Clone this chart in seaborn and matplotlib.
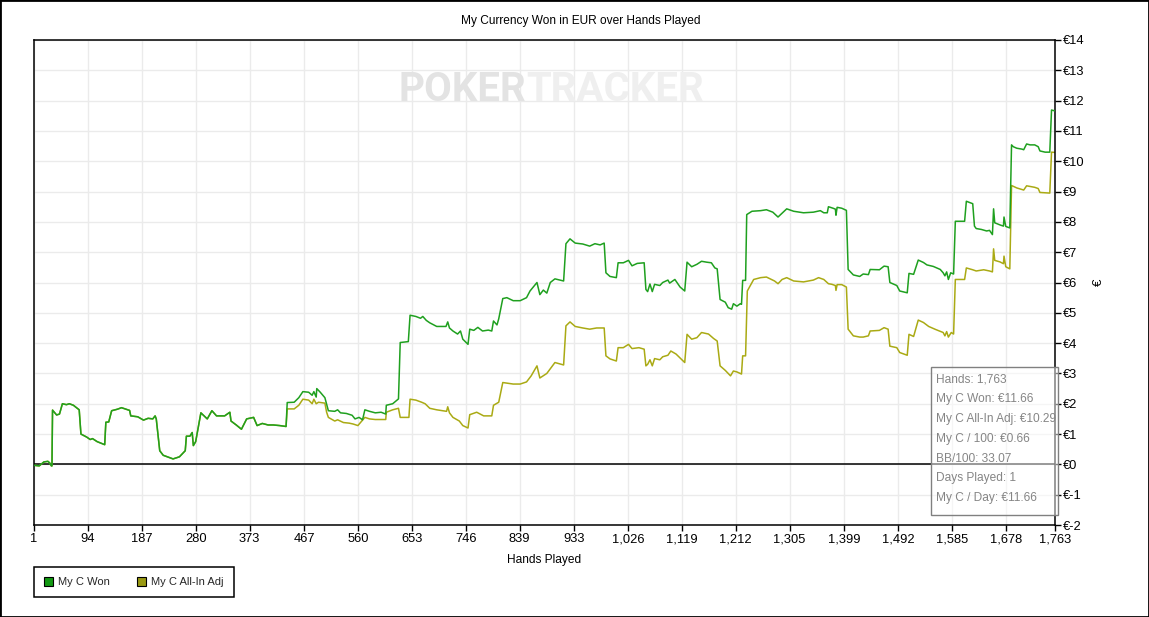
import matplotlib
matplotlib.use("Agg")
import matplotlib.pyplot as plt
from matplotlib.patches import Rectangle, Patch
import pandas as pd
import seaborn as sns

# ---------------- data ----------------
# both series coincide until ~hand 436
early_hands = [1, 10, 18, 25, 28, 31, 32, 33, 40, 45, 50, 57, 62, 69, 79, 82, 92, 98, 102, 110,
               123, 125, 130, 135, 145, 152, 160, 166, 168, 180, 190, 198, 206, 210, 212, 218,
               224, 241, 252, 262, 264, 270, 274, 276, 280, 289, 300, 308, 316, 330, 339, 341,
               350, 359, 368, 380, 386, 395, 405, 414, 425, 436]
early_values = [-0.03, -0.05, 0.08, 0.1, 0.05, -0.05, -0.05, 1.79, 1.63, 1.66, 2.0, 1.97, 2.0, 1.95,
                1.8, 1.0, 0.9, 0.82, 0.85, 0.75, 0.65, 1.39, 1.4, 1.77, 1.82, 1.87, 1.82, 1.78, 1.6,
                1.57, 1.46, 1.52, 1.5, 1.6, 1.5, 0.45, 0.3, 0.18, 0.25, 0.45, 0.93, 0.93, 1.05, 0.62,
                0.75, 1.7, 1.5, 1.77, 1.6, 1.6, 1.72, 1.43, 1.3, 1.16, 1.5, 1.55, 1.28, 1.35, 1.3,
                1.3, 1.28, 1.25]

won_late_hands = [438, 450, 458, 465, 475, 481, 484, 488, 489, 495, 503, 506, 509, 520, 525, 530,
                  540, 550, 555, 562, 568, 572, 580, 590, 600, 608, 609, 620, 630, 633, 647, 650,
                  660, 668, 672, 678, 684, 696, 712, 715, 718, 724, 732, 737, 741, 750, 753, 760,
                  767, 775, 785, 791, 794, 800, 803, 810, 817, 828, 840, 851, 857, 869, 874, 880,
                  886, 892, 900, 915, 919, 926, 935, 948, 960, 969, 978, 985, 988, 995, 1006, 1009,
                  1018, 1027, 1033, 1042, 1054, 1057, 1060, 1064, 1068, 1072, 1081, 1086, 1095,
                  1098, 1107, 1116, 1124, 1128, 1136, 1145, 1153, 1162, 1170, 1176, 1180, 1185,
                  1194, 1199, 1205, 1208, 1214, 1220, 1222, 1224, 1229, 1231, 1240, 1255, 1265,
                  1276, 1285, 1291, 1300, 1312, 1329, 1346, 1358, 1364, 1370, 1372, 1380, 1384,
                  1385, 1387, 1395, 1403, 1406, 1415, 1426, 1432, 1441, 1444, 1460, 1468, 1475,
                  1478, 1490, 1495, 1508, 1511, 1519, 1527, 1536, 1542, 1553, 1565, 1570, 1573,
                  1576, 1579, 1583, 1588, 1591, 1607, 1610, 1621, 1624, 1627, 1636, 1645, 1650,
                  1655, 1657, 1659, 1668, 1674, 1675, 1678, 1685, 1688, 1691, 1697, 1706, 1709,
                  1714, 1720, 1728, 1734, 1737, 1746, 1754, 1757, 1763]
won_late_values = [2.04, 2.05, 2.2, 2.4, 2.38, 2.28, 2.4, 2.22, 2.5, 2.38, 2.2, 1.99, 1.77, 1.75,
                   1.8, 1.7, 1.68, 1.62, 1.5, 1.55, 1.47, 1.8, 1.75, 1.7, 1.72, 1.66, 1.95, 2.0,
                   2.16, 4.02, 4.05, 4.92, 4.88, 4.82, 4.88, 4.75, 4.67, 4.55, 4.55, 4.7, 4.5, 4.4,
                   4.3, 4.4, 4.13, 3.96, 4.46, 4.42, 4.52, 4.4, 4.43, 4.4, 4.73, 4.6, 4.8, 5.47,
                   5.5, 5.4, 5.4, 5.5, 5.72, 6.0, 5.6, 5.75, 5.65, 6.0, 6.12, 6.05, 7.28, 7.44, 7.3,
                   7.27, 7.2, 7.28, 7.24, 7.3, 6.32, 6.2, 6.16, 6.65, 6.65, 6.73, 6.55, 6.63, 6.65,
                   5.77, 5.7, 5.95, 5.7, 5.94, 5.9, 6.0, 6.08, 5.98, 6.1, 5.85, 5.72, 6.67, 6.52,
                   6.6, 6.7, 6.67, 6.65, 6.48, 6.45, 5.44, 5.35, 5.17, 5.12, 5.3, 5.22, 5.3, 5.28,
                   6.07, 6.07, 8.24, 8.35, 8.37, 8.4, 8.32, 8.16, 8.27, 8.43, 8.35, 8.3, 8.32, 8.37,
                   8.3, 8.3, 8.5, 8.45, 8.42, 8.22, 8.48, 8.45, 8.38, 6.43, 6.25, 6.2, 6.28, 6.26,
                   6.43, 6.42, 6.54, 6.52, 6.0, 5.9, 5.72, 5.66, 6.3, 6.27, 6.74, 6.66, 6.58, 6.53,
                   6.43, 6.32, 6.22, 6.35, 6.1, 6.32, 6.28, 8.02, 8.02, 8.68, 8.6, 7.86, 7.78, 7.75,
                   7.7, 7.72, 7.58, 8.43, 7.97, 7.9, 7.86, 8.16, 7.85, 7.8, 10.54, 10.48, 10.43,
                   10.4, 10.38, 10.57, 10.54, 10.54, 10.48, 10.34, 10.3, 10.3, 11.69, 11.66]

adj_late_hands = [438, 450, 458, 465, 475, 481, 484, 488, 492, 503, 506, 509, 520, 525, 535, 545,
                  552, 560, 572, 580, 590, 600, 608, 609, 620, 630, 633, 648, 650, 660, 670, 676,
                  684, 696, 713, 715, 718, 724, 735, 741, 750, 753, 765, 777, 791, 794, 803, 810,
                  828, 840, 851, 859, 869, 874, 886, 900, 915, 919, 926, 935, 948, 960, 972, 985,
                  988, 995, 1006, 1009, 1018, 1027, 1033, 1045, 1054, 1057, 1060, 1064, 1068,
                  1072, 1081, 1086, 1095, 1100, 1109, 1124, 1128, 1136, 1145, 1153, 1165, 1174,
                  1180, 1185, 1194, 1203, 1208, 1214, 1222, 1224, 1229, 1232, 1243, 1255, 1265,
                  1279, 1285, 1292, 1300, 1312, 1329, 1346, 1355, 1364, 1372, 1378, 1384, 1385,
                  1387, 1395, 1403, 1406, 1415, 1426, 1432, 1441, 1444, 1460, 1468, 1475, 1478,
                  1490, 1495, 1508, 1511, 1519, 1527, 1536, 1545, 1557, 1570, 1573, 1576, 1579,
                  1584, 1588, 1591, 1607, 1610, 1621, 1627, 1640, 1650, 1655, 1657, 1659, 1668,
                  1674, 1675, 1678, 1685, 1688, 1697, 1709, 1714, 1728, 1734, 1737, 1754, 1757,
                  1763]
adj_late_values = [1.83, 1.83, 1.95, 2.15, 2.12, 2.0, 2.15, 2.0, 2.05, 2.02, 1.72, 1.55, 1.43,
                   1.47, 1.38, 1.36, 1.33, 1.28, 1.55, 1.5, 1.48, 1.48, 1.48, 1.72, 1.8, 1.85,
                   1.55, 1.55, 2.15, 2.12, 2.05, 2.0, 1.85, 1.8, 1.75, 1.9, 1.7, 1.55, 1.43, 1.28,
                   1.2, 1.64, 1.72, 1.6, 1.6, 1.95, 2.05, 2.7, 2.65, 2.65, 2.72, 2.92, 3.25, 2.85,
                   3.0, 3.36, 3.28, 4.57, 4.7, 4.55, 4.5, 4.46, 4.5, 4.5, 3.58, 3.48, 3.41, 3.85,
                   3.85, 3.96, 3.82, 3.85, 3.8, 3.25, 3.3, 3.45, 3.25, 3.49, 3.45, 3.55, 3.6, 3.74,
                   3.64, 3.36, 4.29, 4.13, 4.18, 4.35, 4.3, 4.15, 4.07, 3.25, 3.1, 2.92, 3.08, 3.05,
                   2.98, 3.58, 3.58, 5.72, 6.1, 6.16, 6.18, 6.05, 5.96, 6.1, 6.16, 6.05, 6.02, 6.08,
                   6.16, 6.1, 5.96, 5.94, 5.9, 5.74, 5.93, 5.93, 5.85, 4.46, 4.24, 4.2, 4.2, 4.24,
                   4.4, 4.42, 4.51, 4.46, 3.9, 3.85, 3.69, 3.6, 4.29, 4.22, 4.76, 4.68, 4.55, 4.45,
                   4.35, 4.24, 4.38, 4.2, 4.35, 4.3, 6.1, 6.1, 6.48, 6.42, 6.38, 6.42, 6.38, 6.35,
                   7.11, 6.73, 6.68, 6.62, 6.87, 6.52, 6.45, 9.2, 9.12, 9.05, 9.19, 9.14, 9.1, 8.97,
                   8.95, 10.3, 10.29]

series_names = ["My C Won", "My C All-In Adj"]
xtick_values = [1, 94, 187, 280, 373, 467, 560, 653, 746, 839, 933, 1026, 1119, 1212, 1305,
                1399, 1492, 1585, 1678, 1763]
xtick_labels = ["1", "94", "187", "280", "373", "467", "560", "653", "746", "839", "933",
                "1,026", "1,119", "1,212", "1,305", "1,399", "1,492", "1,585", "1,678", "1,763"]
ytick_values = list(range(-2, 15))
ytick_labels = ["€-2", "€-1", "€0", "€1", "€2", "€3", "€4", "€5", "€6", "€7", "€8", "€9",
                "€10", "€11", "€12", "€13", "€14"]
info_lines = ["Hands: 1,763", "My C Won: €11.66", "My C All-In Adj: €10.29",
              "My C / 100: €0.66", "BB/100: 33.07", "Days Played: 1", "My C / Day: €11.66"]

# ---------------- styling ----------------
sns.set_theme(style="white")
plt.rcParams["font.family"] = ["Liberation Sans", "DejaVu Sans"]
plt.rcParams["axes.unicode_minus"] = False

WON_LINE = "#1fa01f"
ADJ_LINE = "#aaaa14"
WON_BOX = "#129912"
ADJ_BOX = "#999912"

W, H = 1149, 617
fig = plt.figure(figsize=(W / 100, H / 100), dpi=100)
fig.patch.set_facecolor("white")

L, R, T, B = 34, 1055, 40, 525
ax = fig.add_axes([L / W, 1 - B / H, (R - L) / W, (B - T) / H])
ax.set_facecolor("white")

won_df = pd.DataFrame({"hand": early_hands + won_late_hands,
                       "value": early_values + won_late_values})
adj_df = pd.DataFrame({"hand": early_hands + adj_late_hands,
                       "value": early_values + adj_late_values})

ax.axhline(0, color="black", lw=1.1, zorder=1.5)
sns.lineplot(data=adj_df, x="hand", y="value", color=ADJ_LINE, lw=1.1, ax=ax,
             estimator=None, sort=False, zorder=2)
sns.lineplot(data=won_df, x="hand", y="value", color=WON_LINE, lw=1.1, ax=ax,
             estimator=None, sort=False, zorder=3)

ax.set_xlim(1, 1763)
ax.set_ylim(-2, 14)
ax.set_xticks(xtick_values)
ax.set_xticklabels(xtick_labels)
ax.set_yticks(ytick_values)
ax.set_yticklabels(ytick_labels)
ax.grid(True, color="#ebebeb", lw=1)
ax.set_axisbelow(True)

for s in ax.spines.values():
    s.set_visible(True)
    s.set_color("black")
    s.set_linewidth(1.1)

ax.tick_params(axis="x", bottom=True, direction="out", length=4, width=1, color="black",
               labelsize=9.3, pad=2, labelcolor="black")
ax.tick_params(axis="y", left=False, right=True, labelleft=False, labelright=True,
               direction="out", length=4, width=1, color="black", labelsize=9.3, pad=2,
               labelcolor="black")
ax.yaxis.set_label_position("right")
ax.set_ylabel("€", fontsize=9.5, rotation=90, labelpad=6, color="black")
ax.set_xlabel("Hands Played", fontsize=8.6, labelpad=6, color="black")

# watermark
ax.text(526 / W, 1 - 90 / H, "POKER", transform=fig.transFigure, ha="right", va="center",
        fontsize=29, fontweight="bold", family="Roboto", color="#e3e3e3", zorder=1)
ax.text(526 / W, 1 - 90 / H, "TRACKER", transform=fig.transFigure, ha="left", va="center",
        fontsize=29, fontweight="bold", family="Roboto", color="#efefef", zorder=1)

# title
fig.text(581 / W, 1 - 21 / H, "My Currency Won in EUR over Hands Played", ha="center",
         va="center", fontsize=8.6, color="black")

# legend
handles = [Patch(facecolor=WON_BOX, edgecolor="black", lw=0.8),
           Patch(facecolor=ADJ_BOX, edgecolor="black", lw=0.8)]
leg = fig.legend(handles, series_names, loc="upper left",
                 bbox_to_anchor=(L / W, 1 - 567 / H), bbox_transform=fig.transFigure,
                 ncol=2, fontsize=8, frameon=True, fancybox=False, framealpha=1,
                 edgecolor="black", handlelength=0.8, handleheight=0.8, handletextpad=0.5,
                 columnspacing=2.4, borderpad=0.9, borderaxespad=0)
leg.get_frame().set_linewidth(1.1)

# info box
box = Rectangle((931 / W, 1 - 515 / H), (1058 - 931) / W, (515 - 367) / H,
                transform=fig.transFigure, facecolor="white", alpha=0.5,
                edgecolor="none", zorder=5)
fig.add_artist(box)
box_edge = Rectangle((931 / W, 1 - 515 / H), (1058 - 931) / W, (515 - 367) / H,
                     transform=fig.transFigure, fill=False, edgecolor="#808080", lw=1, zorder=6)
fig.add_artist(box_edge)
for i, line in enumerate(info_lines):
    yy = 379 + i * 19.9
    fig.text(936 / W, 1 - yy / H, line, ha="left", va="center", fontsize=8.6,
             color="#858585", zorder=7)

# outer border
fig.add_artist(Rectangle((0, 0), 1, 1, transform=fig.transFigure, fill=False,
                         edgecolor="black", lw=2, zorder=10))

fig.savefig("out.png", dpi=100, facecolor="white")
